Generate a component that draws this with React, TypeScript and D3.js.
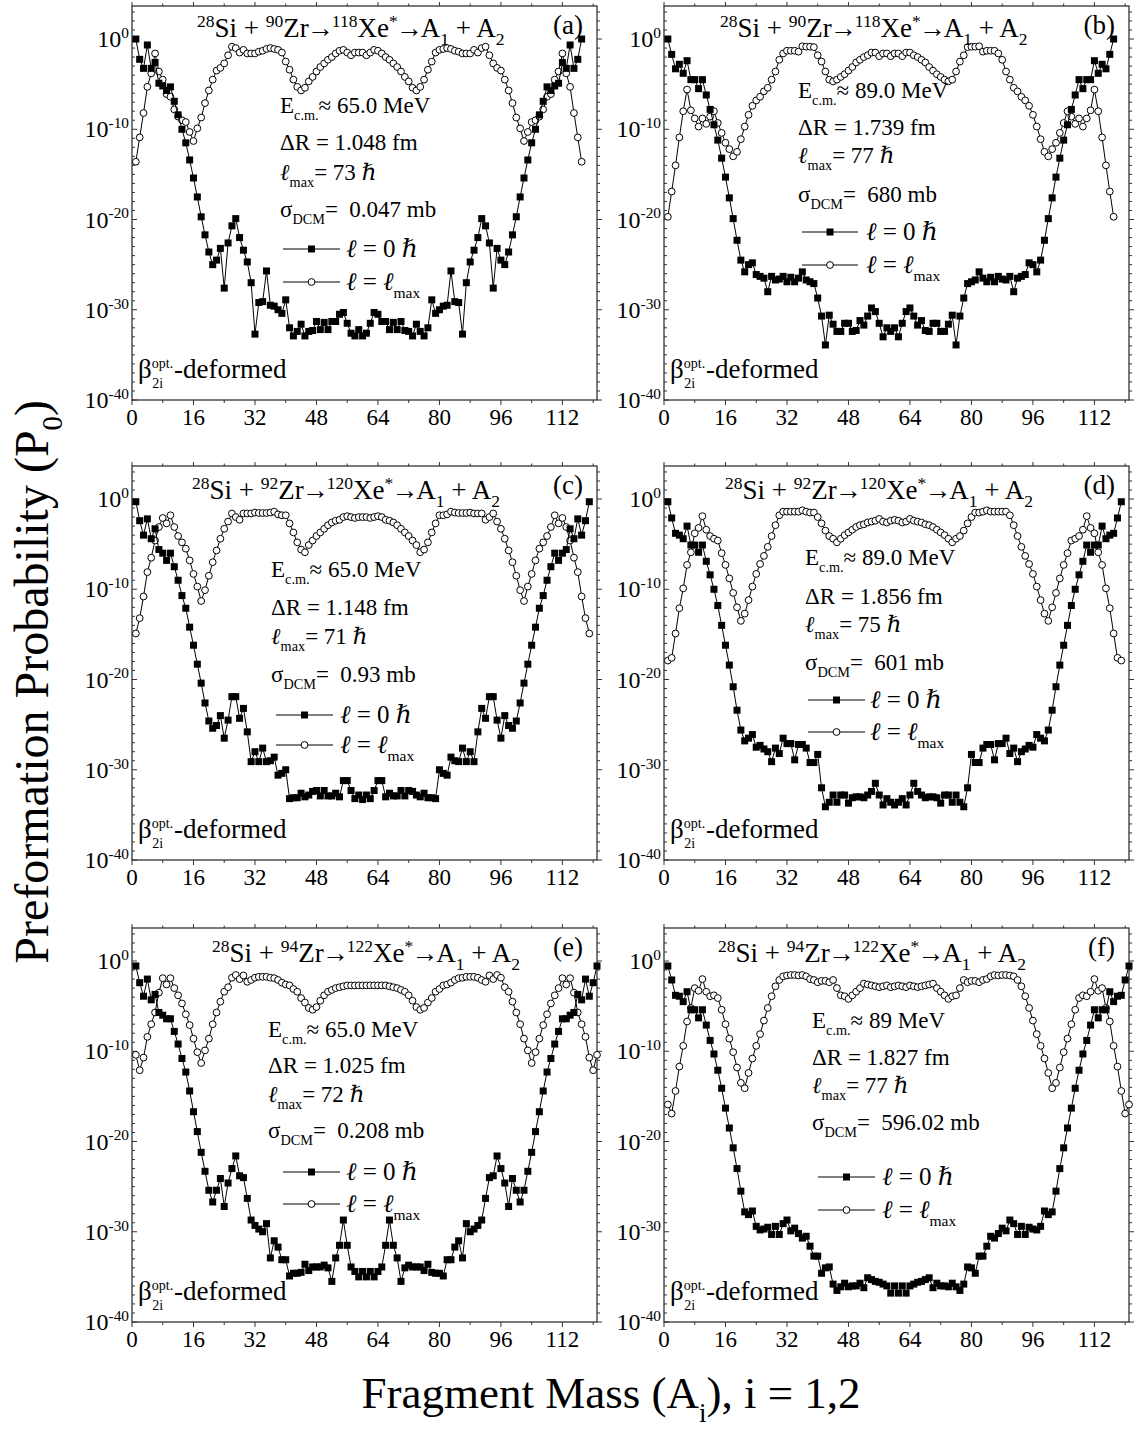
import React from "react";
import * as d3 from "d3";

// log10(P0) values, fragment mass A = 1..N
const l0_a = [0, -2.25, -3.25, -0.66, -3.25, -2.6, -4.9, -5.2, -5.7, -5.3,
  -6.9, -8.4, -10.0, -11.5, -13.4, -15.4, -17.5, -19.7, -21.7, -23.6,
  -25.0, -24.5, -23.2, -27.6, -22.6, -20.7, -19.9, -22.0, -23.4, -24.7,
  -27.0, -32.7, -29.2, -29.1, -25.7, -29.5, -29.6, -30.0, -30.4, -28.9,
  -32.0, -32.9, -32.4, -31.6, -32.9, -32.4, -32.3, -31.3, -32.2, -31.4,
  -32.2, -31.3, -31.3, -30.5, -30.3, -31.5, -32.6, -32.9, -32.2,
  -32.9, -32.6, -31.5, -30.3, -30.5, -31.3, -31.3, -32.2, -31.4, -32.2,
  -31.3, -32.3, -32.4, -32.9, -31.6, -32.4, -32.9, -32.0, -28.9, -30.4,
  -30.0, -29.6, -29.5, -25.7, -29.1, -29.2, -32.7, -27.0, -24.7, -23.4,
  -22.0, -19.9, -20.7, -22.6, -27.6, -23.2, -24.5, -25.0, -23.6, -21.7,
  -19.7, -17.5, -15.4, -13.4, -11.5, -10.0, -8.4, -6.9, -5.3, -5.7,
  -5.2, -4.9, -2.6, -3.25, -0.66, -3.25, -2.25, 0];

const lm_a = [-13.6, -10.9, -8.2, -5.3, -3.8, -1.6, -3.6, -4.5, -6.1, -6.4,
  -7.8, -8.6, -9.0, -9.2, -10.3, -11.3, -9.9, -8.7, -7.1, -5.7,
  -4.5, -3.5, -3.2, -2.7, -1.8, -0.85, -1.0, -1.5, -1.2, -1.6,
  -1.6, -1.6, -1.4, -1.3, -1.1, -1.0, -1.1, -1.2, -1.5, -2.5,
  -3.4, -4.5, -5.3, -5.7, -5.4, -4.7, -4.2, -3.6, -3.1, -2.7,
  -2.3, -2.0, -1.6, -1.3, -1.2, -1.5, -1.8, -1.5, -1.5,
  -1.5, -1.8, -1.5, -1.2, -1.3, -1.6, -2.0, -2.3, -2.7, -3.1,
  -3.6, -4.2, -4.7, -5.4, -5.7, -5.3, -4.5, -3.4, -2.5, -1.5,
  -1.2, -1.1, -1.0, -1.1, -1.3, -1.4, -1.6, -1.6, -1.6, -1.2,
  -1.5, -1.0, -0.85, -1.8, -2.7, -3.2, -3.5, -4.5, -5.7, -7.1,
  -8.7, -9.9, -11.3, -10.3, -9.2, -9.0, -8.6, -7.8, -6.4, -6.1,
  -4.5, -3.6, -1.6, -3.8, -5.3, -8.2, -10.9, -13.6];

const l0_b = [0, -1.7, -3.3, -2.8, -3.8, -2.4, -4.5, -4.5, -5.5, -4.5,
  -6.2, -7.8, -9.5, -11.2, -13.2, -15.3, -17.6, -19.9, -22.3, -24.5,
  -25.8, -25.0, -24.8, -26.1, -26.3, -26.5, -28.0, -26.3, -26.7, -26.6,
  -26.3, -26.9, -26.4, -26.9, -26.5, -25.8, -26.7, -26.9, -27.1, -28.7,
  -30.7, -33.9, -30.6, -31.6, -32.4, -32.4, -31.5, -31.5, -32.4, -32.3,
  -31.2, -31.7, -30.7, -29.8, -30.2, -31.5, -33.0, -32.0, -32.4,
  -32.0, -33.0, -31.5, -30.2, -29.8, -30.7, -31.7, -31.2, -32.3, -32.4,
  -31.5, -31.5, -32.4, -32.4, -31.6, -30.6, -33.9, -30.7, -28.7, -27.1,
  -26.9, -26.7, -25.8, -26.5, -26.9, -26.4, -26.9, -26.3, -26.6, -26.7,
  -26.3, -28.0, -26.5, -26.3, -26.1, -24.8, -25.0, -25.8, -24.5, -22.3,
  -19.9, -17.6, -15.3, -13.2, -11.2, -9.5, -7.8, -6.2, -4.5, -5.5,
  -4.5, -4.5, -2.4, -3.8, -2.8, -3.3, -1.7, 0];

const lm_b = [-19.7, -16.9, -14.0, -10.9, -8.0, -5.6, -7.9, -8.8, -9.7, -8.8,
  -9.4, -8.6, -8.0, -9.3, -10.4, -11.5, -12.2, -13.0, -12.5, -11.1,
  -9.7, -8.4, -7.4, -6.8, -6.4, -5.8, -5.4, -4.5, -3.6, -2.3,
  -1.6, -1.3, -1.3, -1.3, -1.4, -0.8, -0.85, -0.85, -0.9, -1.8,
  -2.5, -3.6, -4.5, -4.7, -4.5, -4.2, -3.9, -3.5, -3.1, -2.6,
  -2.3, -2.0, -1.8, -1.5, -1.5, -1.9, -1.6, -1.6, -1.9,
  -1.6, -1.6, -1.9, -1.5, -1.5, -1.8, -2.0, -2.3, -2.6, -3.1,
  -3.5, -3.9, -4.2, -4.5, -4.7, -4.5, -3.6, -2.5, -1.8, -0.9,
  -0.85, -0.85, -0.8, -1.4, -1.3, -1.3, -1.3, -1.6, -2.3, -3.6,
  -4.5, -5.4, -5.8, -6.4, -6.8, -7.4, -8.4, -9.7, -11.1, -12.5,
  -13.0, -12.2, -11.5, -10.4, -9.3, -8.0, -8.6, -9.4, -8.8, -9.7,
  -8.8, -7.9, -5.6, -8.0, -10.9, -14.0, -16.9, -19.7];

const l0_c = [-0.3, -2.4, -4.0, -2.2, -4.4, -3.3, -5.6, -6.0, -6.8, -6.0,
  -7.5, -9.0, -10.7, -12.1, -14.2, -16.2, -18.3, -20.4, -22.6, -24.6,
  -25.4, -25.1, -24.0, -26.5, -24.5, -21.9, -21.9, -24.3, -23.2, -25.8,
  -29.1, -28.0, -29.1, -27.6, -29.1, -29.0, -28.6, -30.6, -30.4, -30.0,
  -33.2, -33.1, -33.1, -32.6, -33.0, -32.8, -32.4, -32.3, -32.9, -32.3,
  -32.9, -32.9, -32.6, -33.0, -31.2, -31.2, -32.3, -33.2, -32.8, -33.3,
  -32.8, -33.2, -32.3, -31.2, -31.2, -33.0, -32.6, -32.9, -32.9, -32.3,
  -32.9, -32.3, -32.4, -32.8, -33.0, -32.6, -33.1, -33.1, -33.2, -30.0,
  -30.4, -30.6, -28.6, -29.0, -29.1, -27.6, -29.1, -28.0, -29.1, -25.8,
  -23.2, -24.3, -21.9, -21.9, -24.5, -26.5, -24.0, -25.1, -25.4, -24.6,
  -22.6, -20.4, -18.3, -16.2, -14.2, -12.1, -10.7, -9.0, -7.5, -6.0,
  -6.8, -6.0, -5.6, -3.3, -4.4, -2.2, -4.0, -2.4, -0.3];

const lm_c = [-14.9, -13.2, -10.8, -8.1, -6.5, -4.6, -3.1, -2.1, -2.7, -1.8,
  -3.1, -4.1, -4.8, -5.5, -6.8, -8.3, -9.7, -11.3, -10.1, -8.5,
  -7.0, -5.7, -4.4, -3.3, -2.5, -1.6, -2.0, -2.3, -1.6, -1.6,
  -1.6, -1.5, -1.55, -1.55, -1.55, -1.5, -1.4, -1.7, -1.8, -1.8,
  -2.7, -3.7, -4.8, -5.6, -5.9, -5.1, -4.6, -4.1, -3.7, -3.3,
  -2.9, -2.6, -2.4, -2.3, -2.0, -1.9, -2.0, -2.1, -2.0, -2.0,
  -2.0, -2.1, -2.0, -1.9, -2.0, -2.3, -2.4, -2.6, -2.9, -3.3,
  -3.7, -4.1, -4.6, -5.1, -5.9, -5.6, -4.8, -3.7, -2.7, -1.8,
  -1.8, -1.7, -1.4, -1.5, -1.55, -1.55, -1.55, -1.5, -1.6, -1.6,
  -1.6, -2.3, -2.0, -1.6, -2.5, -3.3, -4.4, -5.7, -7.0, -8.5,
  -10.1, -11.3, -9.7, -8.3, -6.8, -5.5, -4.8, -4.1, -3.1, -1.8,
  -2.7, -2.1, -3.1, -4.6, -6.5, -8.1, -10.8, -13.2, -14.9];

const l0_d = [-0.3, -2.1, -3.8, -4.0, -4.4, -3.0, -5.1, -5.1, -5.9, -5.1,
  -6.9, -8.4, -10.0, -11.8, -14.0, -16.2, -18.4, -20.8, -23.4, -25.6,
  -26.8, -26.5, -26.1, -27.5, -27.3, -27.7, -28.0, -29.1, -27.6, -28.2,
  -26.5, -27.1, -27.1, -28.9, -27.2, -27.2, -27.6, -29.2, -29.2, -28.3,
  -32.0, -34.1, -33.6, -32.8, -33.6, -32.8, -32.8, -33.7, -33.1, -33.0,
  -33.0, -33.1, -32.8, -32.4, -31.5, -32.8, -33.9, -33.2, -33.6, -33.9,
  -33.6, -33.2, -33.9, -32.8, -31.5, -32.4, -32.8, -33.1, -33.0, -33.0,
  -33.1, -33.7, -32.8, -32.8, -33.6, -32.8, -33.6, -34.1, -32.0, -28.3,
  -29.2, -29.2, -27.6, -27.2, -27.2, -28.9, -27.1, -27.1, -26.5, -28.2,
  -27.6, -29.1, -28.0, -27.7, -27.3, -27.5, -26.1, -26.5, -26.8, -25.6,
  -23.4, -20.8, -18.4, -16.2, -14.0, -11.8, -10.0, -8.4, -6.9, -5.1,
  -5.9, -5.1, -5.1, -3.0, -4.4, -4.0, -3.8, -2.1, -0.3];

const lm_d = [-17.9, -17.6, -14.9, -12.1, -9.9, -7.3, -5.9, -3.8, -3.2, -1.9,
  -3.4, -4.1, -4.4, -4.6, -6.0, -7.3, -8.8, -10.4, -12.0, -13.5,
  -12.7, -11.2, -9.7, -8.3, -7.2, -6.3, -5.3, -4.1, -2.9, -1.8,
  -1.4, -1.4, -1.4, -1.4, -1.4, -1.25, -1.4, -1.5, -1.5, -2.0,
  -2.7, -3.5, -4.1, -4.4, -4.8, -4.4, -4.0, -3.7, -3.4, -3.1,
  -2.9, -2.8, -2.6, -2.5, -2.4, -2.2, -2.5, -2.6, -2.4, -2.3,
  -2.4, -2.6, -2.5, -2.2, -2.4, -2.5, -2.6, -2.8, -2.9, -3.1,
  -3.4, -3.7, -4.0, -4.4, -4.8, -4.4, -4.1, -3.5, -2.7, -2.0,
  -1.5, -1.5, -1.4, -1.25, -1.4, -1.4, -1.4, -1.4, -1.4, -1.8,
  -2.9, -4.1, -5.3, -6.3, -7.2, -8.3, -9.7, -11.2, -12.7, -13.5,
  -12.0, -10.4, -8.8, -7.3, -6.0, -4.6, -4.4, -4.1, -3.4, -1.9,
  -3.2, -3.8, -5.9, -7.3, -9.9, -12.1, -14.9, -17.6, -17.9];

const l0_e = [-0.55, -2.4, -3.9, -2.0, -4.3, -3.7, -5.7, -6.0, -6.4, -6.4,
  -7.8, -9.2, -10.8, -12.3, -14.4, -16.7, -18.9, -21.2, -23.3, -25.4,
  -26.7, -25.4, -24.1, -27.2, -24.6, -23.0, -21.6, -23.8, -24.0, -26.3,
  -28.7, -29.3, -29.7, -30.0, -29.1, -32.9, -31.0, -31.7, -33.1, -33.1,
  -34.9, -34.6, -34.6, -34.5, -33.6, -34.3, -33.9, -33.9, -33.9, -33.7,
  -34.0, -35.5, -32.9, -31.5, -28.7, -31.5, -33.9, -34.4, -35.0, -34.4,
  -35.0,
  -34.4, -35.0, -34.4, -33.9, -31.5, -28.7, -31.5, -32.9, -35.5, -34.0,
  -33.7, -33.9, -33.9, -33.9, -34.3, -33.6, -34.5, -34.6, -34.6, -34.9,
  -33.1, -33.1, -31.7, -31.0, -32.9, -29.1, -30.0, -29.7, -29.3, -28.7,
  -26.3, -24.0, -23.8, -21.6, -23.0, -24.6, -27.2, -24.1, -25.4, -26.7,
  -25.4, -23.3, -21.2, -18.9, -16.7, -14.4, -12.3, -10.8, -9.2, -7.8,
  -6.4, -6.4, -6.0, -5.7, -3.7, -4.3, -2.0, -3.9, -2.4, -0.55];

const lm_e = [-10.4, -12.1, -10.7, -8.4, -7.0, -5.7, -3.5, -1.9, -2.6, -1.9,
  -3.0, -3.8, -4.7, -5.9, -7.1, -8.6, -10.1, -11.3, -9.9, -8.6,
  -7.0, -5.7, -4.5, -3.4, -2.9, -1.85, -1.55, -2.0, -1.6, -2.3,
  -2.1, -1.85, -1.75, -1.75, -1.75, -1.85, -1.9, -2.1, -2.4, -2.6,
  -2.7, -3.1, -3.4, -4.1, -4.6, -5.2, -5.4, -5.1, -4.4, -3.8,
  -3.4, -3.2, -3.0, -2.9, -2.8, -2.7, -2.7, -2.7, -2.7, -2.7,
  -2.7,
  -2.7, -2.7, -2.7, -2.7, -2.7, -2.8, -2.9, -3.0, -3.2, -3.4,
  -3.8, -4.4, -5.1, -5.4, -5.2, -4.6, -4.1, -3.4, -3.1, -2.7,
  -2.6, -2.4, -2.1, -1.9, -1.85, -1.75, -1.75, -1.75, -1.85, -2.1,
  -2.3, -1.6, -2.0, -1.55, -1.85, -2.9, -3.4, -4.5, -5.7, -7.0,
  -8.6, -9.9, -11.3, -10.1, -8.6, -7.1, -5.9, -4.7, -3.8, -3.0,
  -1.9, -2.6, -1.9, -3.5, -5.7, -7.0, -8.4, -10.7, -12.1, -10.4];

const l0_f = [-0.55, -2.1, -3.8, -3.9, -4.5, -3.4, -5.4, -5.4, -6.3, -5.4,
  -7.1, -8.8, -10.3, -12.1, -14.1, -16.3, -18.5, -20.7, -23.0, -25.5,
  -27.8, -28.1, -27.7, -29.4, -29.8, -29.7, -29.5, -30.3, -29.4, -30.3,
  -29.1, -28.7, -29.9, -29.6, -30.2, -30.7, -30.5, -31.6, -32.7, -32.7,
  -34.6, -34.0, -33.9, -35.8, -36.5, -36.1, -35.7, -36.1, -36.0, -36.0,
  -35.7, -36.2, -35.1, -35.3, -35.5, -35.6, -35.8, -36.0, -36.8, -36.0,
  -36.8,
  -36.0, -36.8, -36.0, -35.8, -35.6, -35.5, -35.3, -35.1, -36.2, -35.7,
  -36.0, -36.0, -36.1, -35.7, -36.1, -36.5, -35.8, -33.9, -34.0, -34.6,
  -32.7, -32.7, -31.6, -30.5, -30.7, -30.2, -29.6, -29.9, -28.7, -29.1,
  -30.3, -29.4, -30.3, -29.5, -29.7, -29.8, -29.4, -27.7, -28.1, -27.8,
  -25.5, -23.0, -20.7, -18.5, -16.3, -14.1, -12.1, -10.3, -8.8, -7.1,
  -5.4, -6.3, -5.4, -5.4, -3.4, -4.5, -3.9, -3.8, -2.1, -0.55];

const lm_f = [-15.9, -16.9, -14.4, -11.7, -9.4, -6.7, -5.2, -3.0, -3.3, -2.0,
  -3.4, -3.9, -3.8, -4.1, -5.4, -7.0, -8.6, -10.1, -11.8, -13.5,
  -14.1, -12.4, -10.8, -9.4, -8.1, -6.6, -5.2, -3.9, -2.8, -2.1,
  -1.7, -1.6, -1.55, -1.55, -1.6, -1.55, -1.7, -2.0, -2.1, -2.35,
  -2.2, -2.2, -2.35, -2.1, -3.0, -3.8, -3.9, -4.2, -3.8, -3.4,
  -3.0, -2.5, -2.6, -2.7, -2.8, -2.9, -2.8, -2.7, -2.9, -2.8,
  -2.7,
  -2.8, -2.9, -2.7, -2.8, -2.9, -2.8, -2.7, -2.6, -2.5, -3.0,
  -3.4, -3.8, -4.2, -3.9, -3.8, -3.0, -2.1, -2.35, -2.2, -2.2,
  -2.35, -2.1, -2.0, -1.7, -1.55, -1.6, -1.55, -1.55, -1.6, -1.7,
  -2.1, -2.8, -3.9, -5.2, -6.6, -8.1, -9.4, -10.8, -12.4, -14.1,
  -13.5, -11.8, -10.1, -8.6, -7.0, -5.4, -4.1, -3.8, -3.9, -3.4,
  -2.0, -3.3, -3.0, -5.2, -6.7, -9.4, -11.7, -14.4, -16.9, -15.9];

const panelLabels = ["(a)", "(b)", "(c)", "(d)", "(e)", "(f)"];
const zrMass = ["90", "90", "92", "92", "94", "94"];
const xeMass = ["118", "118", "120", "120", "122", "122"];
const eCm = ["65.0", "89.0", "65.0", "89.0", "65.0", "89"];
const deltaR = ["1.048", "1.739", "1.148", "1.856", "1.025", "1.827"];
const lMax = ["73", "77", "71", "75", "72", "77"];
const sigmaDCM = ["0.047", "680", "0.93", "601", "0.208", "596.02"];
const l0Series = [l0_a, l0_b, l0_c, l0_d, l0_e, l0_f];
const lmSeries = [lm_a, lm_b, lm_c, lm_d, lm_e, lm_f];

const xMajor = [0, 16, 32, 48, 64, 80, 96, 112];
const yMajorExp = [0, -10, -20, -30, -40];

const FONT = "'Liberation Serif','DejaVu Serif','Times New Roman',serif";
const PW = 465;
const PH = 394;
const Y_TOP_EXP = 3.66;
const colLeft = [132, 664];
const rowTop = [6, 466, 928];

const layout = [
  { col: 0, row: 0, title: [197, 37], tx: 280, ty: [113, 150, 180, 217], lg: [283, 340, 249, 282, 346] },
  { col: 1, row: 0, title: [720, 37], tx: 798, ty: [98, 135, 163, 202], lg: [802, 858, 232, 265, 866] },
  { col: 0, row: 1, title: [192, 499], tx: 271, ty: [577, 615, 644, 682], lg: [276, 333, 715, 745, 340] },
  { col: 1, row: 1, title: [725, 499], tx: 805, ty: [565, 604, 632, 670], lg: [808, 865, 700, 732, 870] },
  { col: 0, row: 2, title: [212, 962], tx: 268, ty: [1037, 1073, 1102, 1138], lg: [283, 340, 1172, 1204, 346] },
  { col: 1, row: 2, title: [718, 962], tx: 812, ty: [1028, 1065, 1093, 1130], lg: [818, 875, 1177, 1210, 882] },
];

type Seg = { t: string; s?: "sup" | "sub"; it?: boolean; dx?: number; bold?: boolean };

function Rich(props: { x: number; y: number; fs: number; segs: Seg[]; anchor?: string; ratio?: number }) {
  const { x, y, fs, segs, anchor = "start", ratio = 0.62 } = props;
  let cur = 0;
  return (
    <text x={x} y={y} fontSize={fs} fontFamily={FONT} textAnchor={anchor} style={{ whiteSpace: "pre" }} fill="#000">
      {segs.map((g, i) => {
        const target = g.s === "sup" ? -fs * 0.38 : g.s === "sub" ? fs * 0.3 : 0;
        const dy = target - cur;
        cur = target;
        return (
          <tspan
            key={i}
            dx={g.dx}
            dy={dy}
            fontSize={g.s ? fs * ratio : fs}
            fontStyle={g.it ? "italic" : undefined}
            fontWeight={g.bold ? "bold" : undefined}
          >
            {g.t}
          </tspan>
        );
      })}
    </text>
  );
}

function Panel({ i }: { i: number }) {
  const L = layout[i];
  const left = colLeft[L.col];
  const top = rowTop[L.row];
  const right = left + PW;
  const bottom = top + PH;
  const x = d3.scaleLinear().domain([0, 121]).range([left, right]);
  const y = d3.scaleLog().domain([1e-40, Math.pow(10, Y_TOP_EXP)]).range([bottom, top]);
  const l0 = l0Series[i];
  const lm = lmSeries[i];
  const line = d3
    .line<number>()
    .x((_, k) => x(k + 1))
    .y((v) => y(Math.pow(10, v)));
  const xMinor = d3.range(8, 121, 16);
  const yMinor = d3.range(-39, 4).filter((e) => e % 10 !== 0);
  const axisColor = "#333";
  const [lx1, lx2, ly1, ly2, ltx] = L.lg;
  const lmid = (lx1 + lx2) / 2;
  return (
    <g>
      <rect x={left} y={top} width={PW} height={PH} fill="none" stroke={axisColor} strokeWidth={1.3} />
      {xMajor.map((t) => (
        <g key={"xm" + t}>
          <line x1={x(t)} x2={x(t)} y1={bottom} y2={bottom + 5} stroke={axisColor} />
          <line x1={x(t)} x2={x(t)} y1={top} y2={top - 4} stroke={axisColor} />
          <text x={x(t)} y={bottom + 25} fontSize={23} fontFamily={FONT} textAnchor="middle">
            {t}
          </text>
        </g>
      ))}
      {xMinor.map((t) => (
        <g key={"xn" + t}>
          <line x1={x(t)} x2={x(t)} y1={bottom} y2={bottom + 3} stroke={axisColor} />
          <line x1={x(t)} x2={x(t)} y1={top} y2={top - 2.5} stroke={axisColor} />
        </g>
      ))}
      {yMajorExp.map((e) => {
        const yy = y(Math.pow(10, e));
        return (
          <g key={"ym" + e}>
            <line x1={left} x2={left + 5} y1={yy} y2={yy} stroke={axisColor} />
            <line x1={right} x2={right + 5} y1={yy} y2={yy} stroke={axisColor} />
            <Rich x={left - 3} y={yy + 8} fs={24} anchor="end" ratio={0.64} segs={[{ t: "10" }, { t: String(e), s: "sup" }]} />
          </g>
        );
      })}
      {yMinor.map((e) => {
        const yy = y(Math.pow(10, e));
        return (
          <g key={"yn" + e}>
            <line x1={left} x2={left + 3} y1={yy} y2={yy} stroke={axisColor} />
            <line x1={right} x2={right + 3} y1={yy} y2={yy} stroke={axisColor} />
          </g>
        );
      })}
      <path d={line(lm) || ""} fill="none" stroke="#000" strokeWidth={1} />
      {lm.map((v, k) => (
        <circle key={"c" + k} cx={x(k + 1)} cy={y(Math.pow(10, v))} r={3.4} fill="#fff" stroke="#000" strokeWidth={1} />
      ))}
      <path d={line(l0) || ""} fill="none" stroke="#000" strokeWidth={1} />
      {l0.map((v, k) => (
        <rect key={"s" + k} x={x(k + 1) - 3.5} y={y(Math.pow(10, v)) - 3.5} width={7} height={7} fill="#000" />
      ))}
      <Rich
        x={L.title[0]}
        y={L.title[1]}
        fs={27}
        ratio={0.65}
        segs={[
          { t: "28", s: "sup" },
          { t: "Si + " },
          { t: zrMass[i], s: "sup" },
          { t: "Zr" },
          { t: "→", bold: true, dx: -2 },
          { t: xeMass[i], s: "sup", dx: -2 },
          { t: "Xe" },
          { t: "*", s: "sup" },
          { t: "→", bold: true, dx: -2 },
          { t: "A", dx: -2 },
          { t: "1", s: "sub" },
          { t: " + A" },
          { t: "2", s: "sub" },
        ]}
      />
      <text x={right - 14} y={top + 28} fontSize={27} fontFamily={FONT} textAnchor="end">
        {panelLabels[i]}
      </text>
      <Rich x={L.tx} y={L.ty[0]} fs={23} segs={[{ t: "E" }, { t: "c.m.", s: "sub" }, { t: "≈ " + eCm[i] + " MeV" }]} />
      <Rich x={L.tx} y={L.ty[1]} fs={23} segs={[{ t: "ΔR = " + deltaR[i] + " fm" }]} />
      <Rich
        x={L.tx}
        y={L.ty[2]}
        fs={23}
        segs={[{ t: "ℓ", it: true }, { t: "max", s: "sub" }, { t: "= " + lMax[i] + " " }, { t: "ℏ", it: true }]}
      />
      <Rich x={L.tx} y={L.ty[3]} fs={23} segs={[{ t: "σ" }, { t: "DCM", s: "sub" }, { t: "=  " + sigmaDCM[i] + " mb" }]} />
      <line x1={lx1} x2={lx2} y1={ly1} y2={ly1} stroke="#000" />
      <rect x={lmid - 3.5} y={ly1 - 3.5} width={7} height={7} fill="#000" />
      <Rich x={ltx} y={ly1 + 8} fs={25} segs={[{ t: "ℓ", it: true }, { t: " = 0 " }, { t: "ℏ", it: true }]} />
      <line x1={lx1} x2={lx2} y1={ly2} y2={ly2} stroke="#000" />
      <circle cx={lmid} cy={ly2} r={3.4} fill="#fff" stroke="#000" />
      <Rich x={ltx} y={ly2 + 8} fs={25} segs={[{ t: "ℓ", it: true }, { t: " = " }, { t: "ℓ", it: true }, { t: "max", s: "sub" }]} />
      <text x={left + 6} y={bottom - 22} fontSize={27} fontFamily={FONT} style={{ whiteSpace: "pre" }}>
        β
        <tspan fontSize={14} dy={-10}>opt.</tspan>
        <tspan fontSize={14} dx={-21} dy={20}>2i</tspan>
        <tspan dx={11} dy={-10}>-deformed</tspan>
      </text>
    </g>
  );
}

export default function App() {
  return (
    <svg
      width={1134}
      height={1430}
      viewBox="0 0 1134 1430"
      style={{ position: "absolute", left: 0, top: 0, background: "#fff" }}
    >
      <rect x={0} y={0} width={1134} height={1430} fill="#fff" />
      {panelLabels.map((_, i) => (
        <Panel key={i} i={i} />
      ))}
      <g transform="translate(48,400) rotate(-90)">
        <Rich x={0} y={0} fs={48} anchor="end" ratio={0.6} segs={[{ t: "Preformation Probability (P" }, { t: "0", s: "sub" }, { t: ")" }]} />
      </g>
      <Rich x={611} y={1408} fs={45} anchor="middle" ratio={0.6} segs={[{ t: "Fragment Mass (A" }, { t: "i", s: "sub" }, { t: "), i = 1,2" }]} />
    </svg>
  );
}
